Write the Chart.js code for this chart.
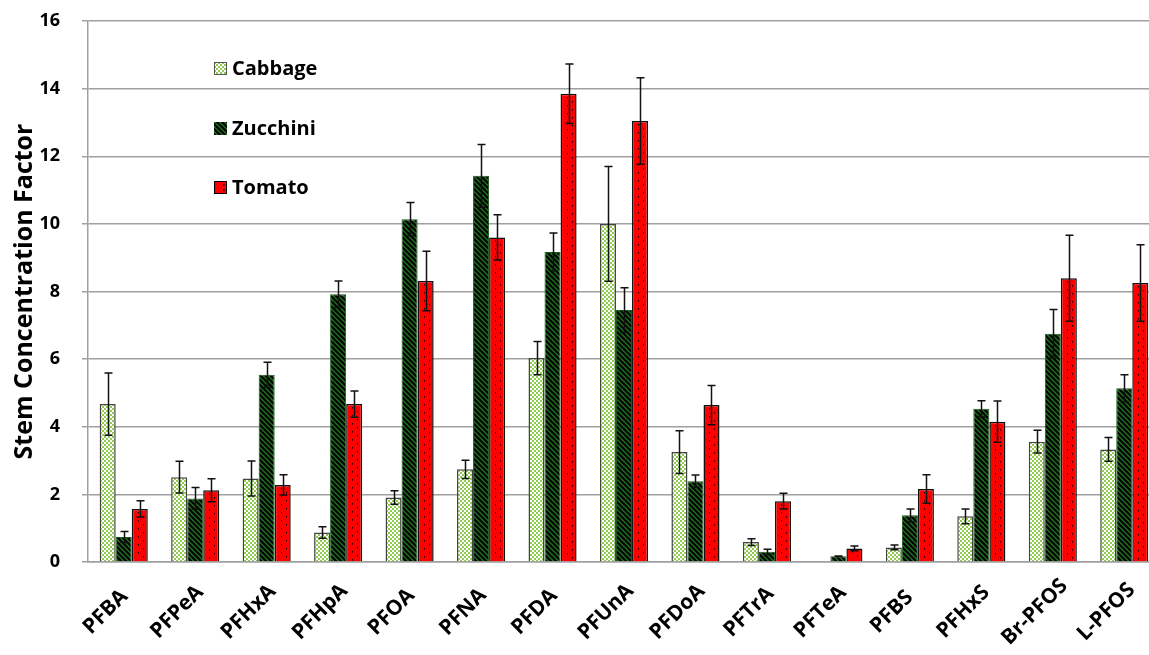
<!DOCTYPE html>
<html>
<head>
<meta charset="utf-8">
<script src="https://cdn.jsdelivr.net/npm/chart.js@4.4.1/dist/chart.umd.min.js"></script>
<style>
  html, body { margin: 0; padding: 0; background: #fff; overflow: hidden; }
  #wrap { width: 1149px; height: 655px; overflow: hidden; }
  canvas { display: block; }
</style>
</head>
<body>
<div id="wrap"><canvas id="c" width="1162" height="655"></canvas></div>
<script>
// Compounds on the category axis
const categories = ['PFBA', 'PFPeA', 'PFHxA', 'PFHpA', 'PFOA', 'PFNA', 'PFDA', 'PFUnA',
                    'PFDoA', 'PFTrA', 'PFTeA', 'PFBS', 'PFHxS', 'Br-PFOS', 'L-PFOS'];

// Mean stem concentration factors and their error (± one SD)
const cabbage    = [4.67, 2.51, 2.47, 0.87, 1.91, 2.74, 6.03, 10.0, 3.25, 0.59, 0,    0.43, 1.35, 3.56, 3.33];
const cabbageErr = [0.92, 0.47, 0.52, 0.17, 0.20, 0.27, 0.49, 1.70, 0.63, 0.10, 0,    0.07, 0.22, 0.34, 0.35];
const zucchini    = [0.74, 1.88, 5.54, 7.92, 10.14, 11.42, 9.17, 7.45, 2.39, 0.30, 0.17, 1.38, 4.53, 6.75, 5.14];
const zucchiniErr = [0.16, 0.32, 0.37, 0.39, 0.49,  0.93,  0.56, 0.66, 0.18, 0.08, 0.01, 0.19, 0.24, 0.72, 0.40];
const tomato    = [1.57, 2.12, 2.28, 4.67, 8.31, 9.60, 13.85, 13.04, 4.64, 1.80, 0.40, 2.16, 4.15, 8.39, 8.25];
const tomatoErr = [0.24, 0.34, 0.30, 0.39, 0.88, 0.67, 0.88,  1.28,  0.58, 0.23, 0.07, 0.42, 0.61, 1.27, 1.13];

const yTicks = [0, 2, 4, 6, 8, 10, 12, 14, 16];

const FONT = '"Open Sans", Lato, "DejaVu Sans", sans-serif';

// Fill patterns
function makeTile(w, h, paint) {
  const t = document.createElement('canvas');
  t.width = w; t.height = h;
  paint(t.getContext('2d'));
  return t;
}
const ctx0 = document.getElementById('c').getContext('2d');

const checkTile = makeTile(4, 4, g => {
  g.fillStyle = '#ffffff'; g.fillRect(0, 0, 4, 4);
  g.fillStyle = '#8fcb4f';
  g.fillRect(0, 0, 2, 2); g.fillRect(2, 2, 2, 2);
});
const checkPattern = ctx0.createPattern(checkTile, 'repeat');

const stripeTile = makeTile(5, 5, g => {
  g.fillStyle = '#1f6e1f'; g.fillRect(0, 0, 5, 5);
  g.strokeStyle = '#000000'; g.lineWidth = 2;
  g.beginPath();
  g.moveTo(-1, -1); g.lineTo(6, 6);
  g.moveTo(-1, 4); g.lineTo(1, 6);
  g.moveTo(4, -1); g.lineTo(6, 1);
  g.stroke();
});
const stripePattern = ctx0.createPattern(stripeTile, 'repeat');

const seriesNames = ['Cabbage', 'Zucchini', 'Tomato'];
const errors = [cabbageErr, zucchiniErr, tomatoErr];

// Error bars, dotted centre line of the tomato bars, slanted category labels, legend
const overlayPlugin = {
  id: 'overlay',
  afterDatasetsDraw(chart) {
    const ctx = chart.ctx;
    const y = chart.scales.y;
    const tMeta = chart.getDatasetMeta(2);
    ctx.save();
    ctx.fillStyle = '#000';
    tMeta.data.forEach(el => {
      const top = el.y + 3, bot = el.base - 2;
      let k = 0;
      for (let py = top; py < bot; py += 4) {
        const px = (k % 2 === 0) ? el.x - 2 : el.x + 3;
        ctx.fillRect(Math.round(px), Math.round(py), 1, 1.5);
        k++;
      }
    });
    ctx.restore();

    ctx.save();
    ctx.strokeStyle = '#111';
    ctx.lineWidth = 1.5;
    chart.data.datasets.forEach((ds, i) => {
      const meta = chart.getDatasetMeta(i);
      meta.data.forEach((el, j) => {
        const v = ds.data[j], e = errors[i][j];
        if (!v || !e) return;
        const x = Math.round(el.x) + 0.5;
        const y1 = y.getPixelForValue(v + e);
        const y2 = y.getPixelForValue(v - e);
        ctx.beginPath();
        ctx.moveTo(x, y1); ctx.lineTo(x, y2);
        ctx.moveTo(x - 4, y1); ctx.lineTo(x + 4, y1);
        ctx.moveTo(x - 4, y2); ctx.lineTo(x + 4, y2);
        ctx.stroke();
      });
    });
    ctx.restore();
  },
  afterDraw(chart) {
    const ctx = chart.ctx;
    const xs = chart.scales.x;

    // category labels, centred on a point below-left of each tick, at 45°
    ctx.save();
    ctx.font = 'bold 21px ' + FONT;
    ctx.fillStyle = '#000';
    ctx.textAlign = 'center';
    ctx.textBaseline = 'middle';
    chart.data.labels.forEach((lab, i) => {
      const x = xs.getPixelForTick(i);
      ctx.save();
      ctx.translate(x - 18, xs.top + 50);
      ctx.rotate(-Math.PI / 4);
      ctx.fillText(lab, 0, 0);
      ctx.restore();
    });
    ctx.restore();

    // legend inside the plot area
    const rows = [68, 128, 187];
    ctx.save();
    ctx.font = 'bold 20px ' + FONT;
    ctx.textBaseline = 'middle';
    rows.forEach((cy, i) => {
      const bx = 214, by = cy - 6, s = 13;
      const ds = chart.data.datasets[i];
      ctx.fillStyle = ds.backgroundColor;
      ctx.fillRect(bx, by, s, s);
      if (i === 0) {
        ctx.strokeStyle = '#555'; ctx.lineWidth = 1;
        ctx.strokeRect(bx + 0.5, by + 0.5, s - 1, s - 1);
      } else if (i === 2) {
        ctx.strokeStyle = '#000'; ctx.lineWidth = 1;
        ctx.strokeRect(bx + 0.5, by + 0.5, s - 1, s - 1);
        ctx.fillStyle = '#000';
        ctx.fillRect(bx + 9, by + 3, 1.5, 2);
        ctx.fillRect(bx + 9, by + 8, 1.5, 2);
      }
      ctx.fillStyle = '#000';
      ctx.fillText(seriesNames[i], 232, cy + 1);
    });
    ctx.restore();
  }
};

new Chart(document.getElementById('c'), {
  type: 'bar',
  data: {
    labels: categories,
    datasets: [
      { label: seriesNames[0], data: cabbage,  backgroundColor: checkPattern,  borderColor: '#444', borderWidth: 1.5 },
      { label: seriesNames[1], data: zucchini, backgroundColor: stripePattern, borderColor: '#1a5a1a', borderWidth: 1 },
      { label: seriesNames[2], data: tomato,   backgroundColor: '#ff0000',     borderColor: '#111', borderWidth: 1.5 }
    ]
  },
  options: {
    responsive: false,
    animation: false,
    events: [],
    layout: { padding: { top: 21, right: 2, left: 0, bottom: 0 } },
    datasets: { bar: { categoryPercentage: 0.673, barPercentage: 1.0 } },
    plugins: { legend: { display: false }, tooltip: { enabled: false } },
    scales: {
      x: {
        afterFit(scale) { scale.height = 93; scale.paddingLeft = 0; scale.paddingRight = 0; },
        grid: { display: false },
        border: { display: true, color: '#a0a0a0', width: 1.5 },
        ticks: { display: false }
      },
      y: {
        min: 0, max: 16,
        afterFit(scale) { scale.width = 88; scale.paddingTop = 0; scale.paddingBottom = 0; },
        afterBuildTicks(scale) { scale.ticks = yTicks.map(v => ({ value: v })); },
        grid: { color: '#a0a0a0', lineWidth: 1.5, tickLength: 6 },
        border: { display: true, color: '#a0a0a0', width: 1.5 },
        ticks: {
          color: '#000', padding: 22,
          font: { family: FONT, size: 18, weight: 'bold' }
        },
        title: {
          display: true, text: 'Stem Concentration Factor', color: '#000',
          padding: { top: 10, bottom: 0 },
          font: { family: FONT, size: 25, weight: 'bold' }
        }
      }
    }
  },
  plugins: [overlayPlugin]
});
</script>
</body>
</html>
